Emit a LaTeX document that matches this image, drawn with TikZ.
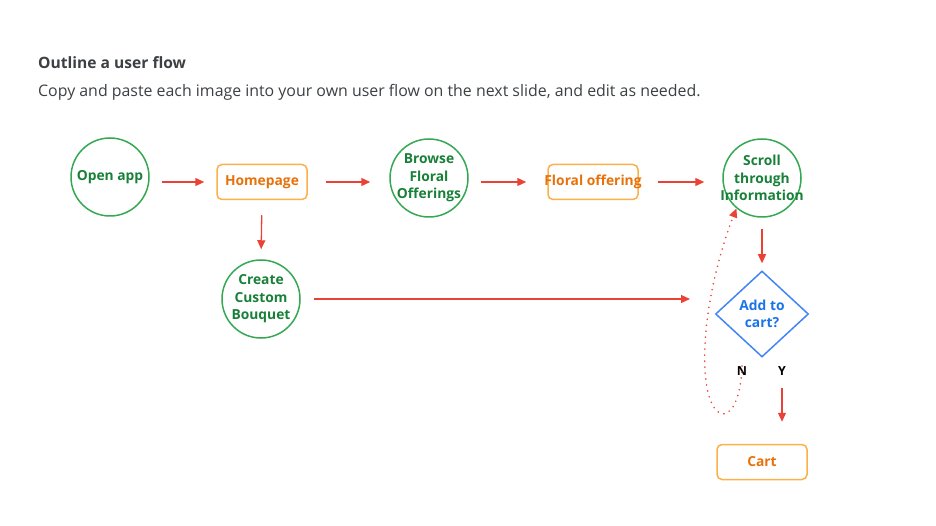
\documentclass[tikz,border=0pt]{standalone}
\usepackage{fontspec}
\setmainfont{Open Sans}
\usetikzlibrary{arrows.meta,shapes.geometric}
\definecolor{ringgreen}{HTML}{34A853}
\definecolor{labelgreen}{HTML}{188038}
\definecolor{boxorange}{HTML}{FBB04A}
\definecolor{labelorange}{HTML}{E8710A}
\definecolor{arrowred}{HTML}{EA4335}
\definecolor{diamondblue}{HTML}{4285F4}
\definecolor{labelblue}{HTML}{1A73E8}
\definecolor{headgray}{HTML}{3C4043}
\tikzset {>={Triangle[length=9pt,width=8pt]}}
\tikzset{
  stepcircle/.style={circle, draw=ringgreen, line width=1.5pt, minimum size=78pt,
    inner sep=0pt, align=center, text=labelgreen,
    font=\bfseries\fontsize{13.8}{17.5}\selectfont},
  pagebox/.style={rectangle, rounded corners=5pt, draw=boxorange, line width=1.5pt,
    minimum width=90pt, minimum height=35pt, inner sep=0pt, text=labelorange,
    font=\bfseries\fontsize{13.8}{17.5}\selectfont},
  choicebox/.style={diamond, draw=diamondblue, line width=1.5pt, minimum width=93pt,
    minimum height=86pt, inner sep=0pt, align=center, text=labelblue,
    font=\bfseries\fontsize{13.8}{17.5}\selectfont},
  flow/.style={->, draw=arrowred, line width=1.3pt},
  loopback/.style={->, draw=arrowred, line width=1.8pt, line cap=round,
    dash pattern=on 0pt off 6pt}
}
\begin{document}
\begin{tikzpicture}[x=1pt,y=-1pt]
\useasboundingbox (0,0) rectangle (936,526);
% heading
\node [anchor=west, inner sep=0pt, text=headgray,
  font=\bfseries\fontsize{15.6}{18}\selectfont] (title) at (38,63) {Outline a user flow};
\node [anchor=west, inner sep=0pt, text=headgray,
  font=\fontsize{15.9}{18}\selectfont] (intro) at (38,92)
  {Copy and paste each image into your own user flow on the next slide, and edit as needed.};

% top row
\node [stepcircle] (open) at (110,177) {Open app};
\node [pagebox] (home) at (262,182) {Homepage};
\node [stepcircle] (browse) at (429,178) {Browse\\Floral\\\makebox[50pt]{Offerings}};
\node [pagebox] (offer) at (593,182) {\makebox[60pt]{Floral offering}};
\node [stepcircle] (scroll) at (762,178) {Scroll\\through\\\makebox[50pt]{Information}};

% lower part
\node [stepcircle] (custom) at (261,299) {Create\\Custom\\Bouquet};
\node [choicebox] (addcart) at (762,314) {Add to\\cart?};
\node [font=\bfseries\fontsize{12.5}{14}\selectfont] (no) at (742,371) {N};
\node [font=\bfseries\fontsize{12.5}{14}\selectfont] (yes) at (782,371) {Y};
\node [pagebox] (cart) at (762,462) {Cart};
\coordinate (joinin) at (690,299);

% arrows
\draw [flow, shorten <=12pt, shorten >=12pt] (open.east |- home.west) -- (home.west);
\draw [flow, shorten <=18pt, shorten >=19pt] (home.east) -- (browse.west |- home.east);
\draw [flow, shorten <=12pt, shorten >=21pt] (browse.east |- offer.west) -- (offer.west);
\draw [flow, shorten <=19pt, shorten >=18pt] (offer.east) -- (scroll.west |- offer.east);
\draw [flow, shorten <=15pt, shorten >=10pt] (home.south) -- (custom.north);
\draw [flow, shorten <=13pt] (custom.east) -- (joinin);
\draw [flow, shorten <=11pt, shorten >=7pt] (scroll.south) -- (addcart.north);
\draw [flow, shorten <=9pt, shorten >=22pt] (yes.south) -- (yes.south |- cart.north);
\draw [loopback] ([yshift=13pt]no.south) .. controls (740,428) and (708,430) .. (705,370)
  .. controls (702,315) and (720,250) .. (scroll.230);
\end{tikzpicture}
\end{document}
